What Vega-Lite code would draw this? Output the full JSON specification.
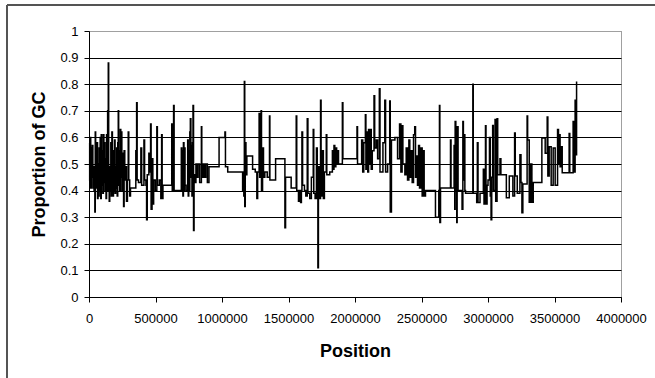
{
  "$schema": "https://vega.github.io/schema/vega-lite/v6.json",
  "width": 532,
  "height": 266,
  "autosize": "none",
  "padding": {"left": 89, "top": 31, "right": 34, "bottom": 81},
  "background": "white",
  "config": {
    "font": "Liberation Sans",
    "view": {"stroke": "#404040", "strokeDash": [1, 1], "strokeWidth": 1},
    "axis": {"domainColor": "black", "tickColor": "black", "labelColor": "black", "titleColor": "black", "labelFont": "Liberation Sans", "titleFont": "Liberation Sans", "labelFontSize": 13, "titleFontSize": 18, "titleFontWeight": "bold", "tickSize": 5, "domainWidth": 1, "tickWidth": 1}
  },
  "data": {"values": [
    {"pos":0,"gc":0.58},{"pos":5000,"gc":0.44},{"pos":9000,"gc":0.60},{"pos":13000,"gc":0.41},{"pos":17000,"gc":0.56},{"pos":21000,"gc":0.45},{"pos":25000,"gc":0.57},{"pos":29000,"gc":0.41},{"pos":33000,"gc":0.49},{"pos":38000,"gc":0.40},{"pos":44000,"gc":0.32},{"pos":47000,"gc":0.62},{"pos":50000,"gc":0.49},{"pos":55000,"gc":0.41},{"pos":60000,"gc":0.58},{"pos":64000,"gc":0.37},{"pos":68000,"gc":0.50},{"pos":72000,"gc":0.38},{"pos":76000,"gc":0.56},{"pos":80000,"gc":0.40},{"pos":84000,"gc":0.60},{"pos":88000,"gc":0.37},{"pos":92000,"gc":0.61},{"pos":96000,"gc":0.42},{"pos":100000,"gc":0.55},{"pos":104000,"gc":0.39},{"pos":108000,"gc":0.61},{"pos":112000,"gc":0.43},{"pos":116000,"gc":0.58},{"pos":120000,"gc":0.40},{"pos":124000,"gc":0.52},{"pos":128000,"gc":0.37},{"pos":132000,"gc":0.61},{"pos":136000,"gc":0.44},{"pos":140000,"gc":0.70},{"pos":143000,"gc":0.40},{"pos":145000,"gc":0.88},{"pos":148000,"gc":0.45},{"pos":152000,"gc":0.36},{"pos":156000,"gc":0.49},{"pos":160000,"gc":0.40},{"pos":164000,"gc":0.58},{"pos":168000,"gc":0.38},{"pos":172000,"gc":0.62},{"pos":176000,"gc":0.44},{"pos":180000,"gc":0.38},{"pos":184000,"gc":0.55},{"pos":188000,"gc":0.40},{"pos":192000,"gc":0.59},{"pos":196000,"gc":0.39},{"pos":200000,"gc":0.49},{"pos":204000,"gc":0.41},{"pos":208000,"gc":0.56},{"pos":212000,"gc":0.38},{"pos":216000,"gc":0.58},{"pos":220000,"gc":0.70},{"pos":223000,"gc":0.42},{"pos":227000,"gc":0.55},{"pos":231000,"gc":0.40},{"pos":235000,"gc":0.63},{"pos":239000,"gc":0.45},{"pos":243000,"gc":0.62},{"pos":247000,"gc":0.40},{"pos":251000,"gc":0.54},{"pos":255000,"gc":0.43},{"pos":260000,"gc":0.34},{"pos":264000,"gc":0.55},{"pos":269000,"gc":0.44},{"pos":275000,"gc":0.49},{"pos":282000,"gc":0.36},{"pos":289000,"gc":0.44},{"pos":295000,"gc":0.62},{"pos":299000,"gc":0.44},{"pos":306000,"gc":0.38},{"pos":312000,"gc":0.41},
    {"pos":352000,"gc":0.55},{"pos":358000,"gc":0.73},{"pos":362000,"gc":0.44},{"pos":372000,"gc":0.43},{"pos":390000,"gc":0.56},{"pos":396000,"gc":0.42},{"pos":413000,"gc":0.59},{"pos":418000,"gc":0.44},{"pos":428000,"gc":0.42},{"pos":433000,"gc":0.29},{"pos":438000,"gc":0.46},{"pos":450000,"gc":0.54},{"pos":458000,"gc":0.47},{"pos":463000,"gc":0.65},{"pos":467000,"gc":0.33},{"pos":474000,"gc":0.52},{"pos":480000,"gc":0.35},{"pos":486000,"gc":0.44},{"pos":498000,"gc":0.40},{"pos":510000,"gc":0.64},{"pos":514000,"gc":0.42},{"pos":528000,"gc":0.44},{"pos":540000,"gc":0.37},{"pos":546000,"gc":0.61},{"pos":550000,"gc":0.37},{"pos":556000,"gc":0.42},{"pos":600000,"gc":0.42},{"pos":622000,"gc":0.65},{"pos":626000,"gc":0.40},{"pos":636000,"gc":0.72},{"pos":640000,"gc":0.40},
    {"pos":694000,"gc":0.56},{"pos":698000,"gc":0.40},{"pos":702000,"gc":0.55},{"pos":706000,"gc":0.38},{"pos":710000,"gc":0.58},{"pos":714000,"gc":0.40},{"pos":718000,"gc":0.56},{"pos":722000,"gc":0.42},{"pos":730000,"gc":0.40},{"pos":742000,"gc":0.59},{"pos":746000,"gc":0.38},{"pos":750000,"gc":0.55},{"pos":754000,"gc":0.40},{"pos":758000,"gc":0.62},{"pos":762000,"gc":0.67},{"pos":766000,"gc":0.45},{"pos":770000,"gc":0.57},{"pos":774000,"gc":0.38},{"pos":778000,"gc":0.58},{"pos":782000,"gc":0.72},{"pos":786000,"gc":0.25},{"pos":790000,"gc":0.46},{"pos":796000,"gc":0.43},{"pos":804000,"gc":0.50},{"pos":812000,"gc":0.45},{"pos":820000,"gc":0.50},{"pos":832000,"gc":0.43},{"pos":845000,"gc":0.64},{"pos":848000,"gc":0.45},{"pos":858000,"gc":0.50},{"pos":868000,"gc":0.45},{"pos":878000,"gc":0.50},{"pos":890000,"gc":0.43},{"pos":902000,"gc":0.49},{"pos":978000,"gc":0.60},{"pos":1022000,"gc":0.62},{"pos":1026000,"gc":0.49},{"pos":1043000,"gc":0.47},
    {"pos":1155000,"gc":0.40},{"pos":1160000,"gc":0.47},{"pos":1164000,"gc":0.38},{"pos":1168000,"gc":0.81},{"pos":1171000,"gc":0.34},{"pos":1175000,"gc":0.58},{"pos":1180000,"gc":0.46},{"pos":1187000,"gc":0.53},{"pos":1230000,"gc":0.48},{"pos":1250000,"gc":0.47},{"pos":1262000,"gc":0.37},{"pos":1268000,"gc":0.47},{"pos":1279000,"gc":0.69},{"pos":1283000,"gc":0.45},{"pos":1294000,"gc":0.70},{"pos":1297000,"gc":0.40},{"pos":1305000,"gc":0.56},{"pos":1312000,"gc":0.45},{"pos":1322000,"gc":0.47},{"pos":1340000,"gc":0.45},{"pos":1357000,"gc":0.68},{"pos":1360000,"gc":0.44},{"pos":1403000,"gc":0.52},{"pos":1473000,"gc":0.26},{"pos":1478000,"gc":0.45},{"pos":1520000,"gc":0.41},{"pos":1558000,"gc":0.68},{"pos":1562000,"gc":0.40},{"pos":1575000,"gc":0.36},{"pos":1585000,"gc":0.40},{"pos":1591000,"gc":0.355},{"pos":1597000,"gc":0.40},{"pos":1601000,"gc":0.62},{"pos":1606000,"gc":0.42},{"pos":1620000,"gc":0.40},{"pos":1630000,"gc":0.38},{"pos":1641000,"gc":0.67},{"pos":1646000,"gc":0.39},{"pos":1660000,"gc":0.37},{"pos":1672000,"gc":0.45},{"pos":1686000,"gc":0.63},{"pos":1690000,"gc":0.39},{"pos":1700000,"gc":0.37},{"pos":1710000,"gc":0.56},{"pos":1716000,"gc":0.37},{"pos":1721000,"gc":0.11},{"pos":1725000,"gc":0.49},{"pos":1733000,"gc":0.37},{"pos":1741000,"gc":0.74},{"pos":1745000,"gc":0.38},{"pos":1755000,"gc":0.55},{"pos":1762000,"gc":0.37},{"pos":1770000,"gc":0.47},{"pos":1784000,"gc":0.61},{"pos":1788000,"gc":0.46},{"pos":1810000,"gc":0.47},{"pos":1830000,"gc":0.55},{"pos":1836000,"gc":0.48},{"pos":1842000,"gc":0.57},{"pos":1848000,"gc":0.49},{"pos":1856000,"gc":0.56},{"pos":1862000,"gc":0.50},{"pos":1870000,"gc":0.55},{"pos":1876000,"gc":0.50},
    {"pos":1905000,"gc":0.73},{"pos":1909000,"gc":0.52},{"pos":2015000,"gc":0.64},{"pos":2019000,"gc":0.50},{"pos":2050000,"gc":0.59},{"pos":2058000,"gc":0.47},{"pos":2066000,"gc":0.58},{"pos":2078000,"gc":0.685},{"pos":2082000,"gc":0.48},{"pos":2090000,"gc":0.62},{"pos":2096000,"gc":0.47},{"pos":2102000,"gc":0.63},{"pos":2108000,"gc":0.50},{"pos":2116000,"gc":0.63},{"pos":2122000,"gc":0.48},{"pos":2130000,"gc":0.55},{"pos":2143000,"gc":0.757},{"pos":2148000,"gc":0.56},{"pos":2160000,"gc":0.59},{"pos":2170000,"gc":0.52},{"pos":2183000,"gc":0.783},{"pos":2188000,"gc":0.47},{"pos":2210000,"gc":0.58},{"pos":2224000,"gc":0.74},{"pos":2230000,"gc":0.47},{"pos":2245000,"gc":0.50},{"pos":2261000,"gc":0.737},{"pos":2265000,"gc":0.32},{"pos":2274000,"gc":0.59},{"pos":2300000,"gc":0.60},{"pos":2320000,"gc":0.52},{"pos":2335000,"gc":0.65},{"pos":2345000,"gc":0.47},{"pos":2354000,"gc":0.644},{"pos":2360000,"gc":0.50},{"pos":2375000,"gc":0.46},{"pos":2385000,"gc":0.56},{"pos":2395000,"gc":0.44},{"pos":2405000,"gc":0.59},{"pos":2412000,"gc":0.45},{"pos":2420000,"gc":0.55},{"pos":2430000,"gc":0.43},{"pos":2440000,"gc":0.61},{"pos":2449000,"gc":0.64},{"pos":2455000,"gc":0.45},{"pos":2462000,"gc":0.53},{"pos":2470000,"gc":0.42},{"pos":2478000,"gc":0.57},{"pos":2485000,"gc":0.41},{"pos":2495000,"gc":0.56},{"pos":2505000,"gc":0.38},{"pos":2512000,"gc":0.55},{"pos":2520000,"gc":0.38},{"pos":2530000,"gc":0.40},{"pos":2605000,"gc":0.30},{"pos":2630000,"gc":0.40},{"pos":2635000,"gc":0.72},{"pos":2638000,"gc":0.28},{"pos":2643000,"gc":0.41},{"pos":2718000,"gc":0.59},{"pos":2722000,"gc":0.41},{"pos":2745000,"gc":0.57},{"pos":2750000,"gc":0.33},{"pos":2753000,"gc":0.66},{"pos":2758000,"gc":0.40},{"pos":2765000,"gc":0.28},{"pos":2768000,"gc":0.64},{"pos":2775000,"gc":0.40},{"pos":2805000,"gc":0.33},{"pos":2811000,"gc":0.66},{"pos":2815000,"gc":0.44},{"pos":2820000,"gc":0.61},{"pos":2826000,"gc":0.40},{"pos":2831000,"gc":0.39},{"pos":2886000,"gc":0.80},{"pos":2889000,"gc":0.39},{"pos":2915000,"gc":0.355},{"pos":2920000,"gc":0.58},{"pos":2925000,"gc":0.355},{"pos":2940000,"gc":0.39},{"pos":2965000,"gc":0.48},{"pos":2970000,"gc":0.35},{"pos":2981000,"gc":0.644},{"pos":2985000,"gc":0.35},{"pos":2993000,"gc":0.42},{"pos":3000000,"gc":0.44},{"pos":3011000,"gc":0.60},{"pos":3017000,"gc":0.38},{"pos":3023000,"gc":0.29},{"pos":3028000,"gc":0.45},{"pos":3035000,"gc":0.645},{"pos":3040000,"gc":0.40},{"pos":3053000,"gc":0.667},{"pos":3058000,"gc":0.36},{"pos":3068000,"gc":0.67},{"pos":3073000,"gc":0.46},{"pos":3090000,"gc":0.52},{"pos":3097000,"gc":0.46},{"pos":3138000,"gc":0.373},{"pos":3160000,"gc":0.455},{"pos":3187000,"gc":0.38},{"pos":3200000,"gc":0.617},{"pos":3205000,"gc":0.455},{"pos":3220000,"gc":0.39},{"pos":3240000,"gc":0.535},{"pos":3248000,"gc":0.43},{"pos":3255000,"gc":0.317},{"pos":3262000,"gc":0.425},{"pos":3294000,"gc":0.68},{"pos":3298000,"gc":0.59},{"pos":3310000,"gc":0.356},{"pos":3320000,"gc":0.50},{"pos":3330000,"gc":0.356},{"pos":3340000,"gc":0.43},{"pos":3405000,"gc":0.598},{"pos":3430000,"gc":0.54},{"pos":3445000,"gc":0.677},{"pos":3450000,"gc":0.455},{"pos":3460000,"gc":0.565},{"pos":3475000,"gc":0.42},{"pos":3490000,"gc":0.56},{"pos":3505000,"gc":0.42},{"pos":3523000,"gc":0.63},{"pos":3530000,"gc":0.50},{"pos":3537000,"gc":0.61},{"pos":3542000,"gc":0.49},{"pos":3552000,"gc":0.565},{"pos":3558000,"gc":0.467},{"pos":3610000,"gc":0.615},{"pos":3615000,"gc":0.467},{"pos":3640000,"gc":0.66},{"pos":3645000,"gc":0.47},{"pos":3655000,"gc":0.74},{"pos":3659000,"gc":0.535},{"pos":3666000,"gc":0.81}
  ]},
  "layer": [
    {
      "mark": {"type": "line", "interpolate": "step-after", "color": "black", "strokeWidth": 1.5},
      "encoding": {
        "x": {"field": "pos", "type": "quantitative", "title": "Position",
          "scale": {"domain": [0, 4000000], "nice": false},
          "axis": {"values": [0, 500000, 1000000, 1500000, 2000000, 2500000, 3000000, 3500000, 4000000], "format": "d", "grid": false, "labelPadding": 10, "labelFlush": false, "labelOverlap": false, "titleY": 59, "titleBaseline": "alphabetic"}},
        "y": {"field": "gc", "type": "quantitative", "title": "Proportion of GC",
          "scale": {"domain": [0, 1], "nice": false},
          "axis": {"values": [0, 0.1, 0.2, 0.3, 0.4, 0.5, 0.6, 0.7, 0.8, 0.9, 1], "format": "~g", "grid": true, "gridColor": "black", "gridWidth": 1, "gridOpacity": {"condition": {"test": "datum.value >= 1", "value": 0}, "value": 1}, "labelPadding": 6, "labelFlush": false, "labelOverlap": false, "titleX": -45, "titleY": 133, "titleBaseline": "alphabetic", "titleAlign": "center", "titleAngle": -90}}
      }
    },
    {
      "mark": {"type": "rule", "color": "#555555", "strokeWidth": 1.5, "clip": false},
      "encoding": {
        "x": {"datum": -616500, "type": "quantitative", "title": "Position",
          "axis": {"values": [0, 500000, 1000000, 1500000, 2000000, 2500000, 3000000, 3500000, 4000000], "format": "d", "grid": false, "labelPadding": 10, "labelFlush": false, "labelOverlap": false, "titleY": 59, "titleBaseline": "alphabetic"}},
        "y": {"datum": 1.0977, "type": "quantitative", "title": "Proportion of GC",
          "axis": {"values": [0, 0.1, 0.2, 0.3, 0.4, 0.5, 0.6, 0.7, 0.8, 0.9, 1], "format": "~g", "grid": true, "gridColor": "black", "gridWidth": 1, "gridOpacity": {"condition": {"test": "datum.value >= 1", "value": 0}, "value": 1}, "labelPadding": 6, "labelFlush": false, "labelOverlap": false, "titleX": -45, "titleY": 133, "titleBaseline": "alphabetic", "titleAlign": "center", "titleAngle": -90}},
        "y2": {"datum": -0.31}
      }
    },
    {
      "mark": {"type": "rule", "color": "#555555", "strokeWidth": 1.5, "clip": false},
      "encoding": {
        "x": {"datum": -616500, "type": "quantitative", "title": "Position",
          "axis": {"values": [0, 500000, 1000000, 1500000, 2000000, 2500000, 3000000, 3500000, 4000000], "format": "d", "grid": false, "labelPadding": 10, "labelFlush": false, "labelOverlap": false, "titleY": 59, "titleBaseline": "alphabetic"}},
        "x2": {"datum": 4260000},
        "y": {"datum": 1.0977, "type": "quantitative", "title": "Proportion of GC",
          "axis": {"values": [0, 0.1, 0.2, 0.3, 0.4, 0.5, 0.6, 0.7, 0.8, 0.9, 1], "format": "~g", "grid": true, "gridColor": "black", "gridWidth": 1, "gridOpacity": {"condition": {"test": "datum.value >= 1", "value": 0}, "value": 1}, "labelPadding": 6, "labelFlush": false, "labelOverlap": false, "titleX": -45, "titleY": 133, "titleBaseline": "alphabetic", "titleAlign": "center", "titleAngle": -90}}
      }
    }
  ]
}
